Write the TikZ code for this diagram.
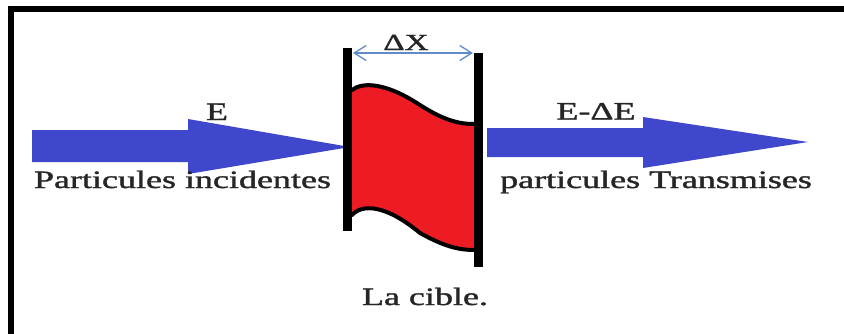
\documentclass[tikz,border=0pt]{standalone}
\usepackage{fontspec}
\setmainfont{Liberation Serif}[FakeBold=1.2]
\usepackage{graphicx}
\usetikzlibrary{arrows.meta, positioning}
\definecolor{beamblue}{RGB}{63, 72, 204}
\definecolor{targetred}{RGB}{237, 28, 36}
\definecolor{gapblue}{RGB}{95, 140, 200}
\newcommand{\widetext}[1]{\scalebox{1.44}[1]{#1}}

\begin{document}
\begin{tikzpicture}[x=1pt, y=-1pt,
  lbl/.style={anchor=base, inner sep=0pt, text=black!85, font=\fontsize{25}{30}\selectfont},
  beam/.style={fill=beamblue},
  bar/.style={line width=9pt},
  edge/.style={line width=4pt, line cap=round}
]
  \useasboundingbox (0,0) rectangle (844,333);
  % frame
  \draw[line width=6pt] (10.5,340) -- (10.5,8.5) -- (850,8.5);

  % incoming and transmitted beams
  \fill[beam] (32,130) -- (188,130) -- (188,119) -- (350,147) -- (188,174) -- (188,162) -- (32,162) -- cycle;
  \fill[beam] (487,128) -- (643,128) -- (643,117) -- (808,142) -- (643,168) -- (643,157) -- (487,157) -- cycle;

  % target
  \fill[targetred] (352,90) .. controls (362,82) and (385,82) .. (420,105)
    .. controls (445,121) and (460,124) .. (474,124) -- (474,250)
    .. controls (460,250) and (445,247) .. (420,233)
    .. controls (385,204) and (362,204) .. (352,215) -- cycle;
  \draw[edge] (352,90) .. controls (362,82) and (385,82) .. (420,105)
    .. controls (445,121) and (460,124) .. (474,124);
  \draw[edge] (352,215) .. controls (362,204) and (385,204) .. (420,233)
    .. controls (445,247) and (460,250) .. (474,250);
  \draw[bar] (347.5,48) -- (347.5,231);
  \draw[bar] (478,53) -- (478,267);

  % thickness
  \coordinate (gapL) at (353,53);
  \coordinate (gapR) at (473,53);
  \draw[gapblue, line width=1.3pt, {Straight Barb[length=12pt, width=15pt]}-{Straight Barb[length=12pt, width=15pt]}] (gapL) -- (gapR);
  \node[lbl, font=\fontsize{23}{28}\selectfont] (dx) at (406,50) {\widetext{ΔX}};

  % labels
  \node[lbl] (ein) at (217,120) {\widetext{E}};
  \node[lbl] (eout) at (596,119.5) {\widetext{E-ΔE}};
  \node[lbl] (inc) at (182.5,188) {\widetext{Particules incidentes}};
  \node[lbl] (trans) at (656,188) {\widetext{particules Transmises}};
  \node[lbl] (cible) at (425,305) {\widetext{La cible.}};
\end{tikzpicture}
\end{document}
